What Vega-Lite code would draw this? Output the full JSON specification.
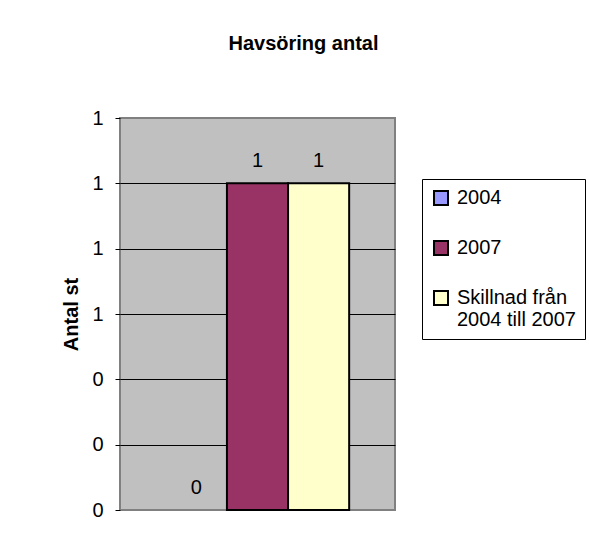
{
  "$schema": "https://vega.github.io/schema/vega-lite/v6.json",
  "width": 275,
  "height": 392,
  "autosize": {"type": "none"},
  "padding": {"left": 120, "top": 118, "right": 194, "bottom": 24},
  "background": "white",
  "title": {
    "text": "Havsöring antal",
    "font": "Liberation Sans",
    "fontSize": 20,
    "fontWeight": "bold",
    "color": "black",
    "anchor": "middle",
    "baseline": "alphabetic",
    "offset": 38,
    "dx": 46
  },
  "data": {
    "values": [
      {"serie": "2004", "antal": 0},
      {"serie": "2007", "antal": 1},
      {"serie": "Skillnad från 2004 till 2007", "antal": 1}
    ]
  },
  "encoding": {
    "x": {
      "field": "serie",
      "type": "nominal",
      "sort": null,
      "scale": {"paddingInner": 0, "paddingOuter": 0.75},
      "axis": null
    },
    "y": {
      "field": "antal",
      "type": "quantitative",
      "scale": {"domain": [0, 1.2], "nice": false},
      "axis": {
        "values": [0, 0.2, 0.4, 0.6, 0.8, 1.0, 1.2],
        "format": ".0f",
        "title": "Antal st",
        "titleFont": "Liberation Sans",
        "titleFontSize": 20,
        "titleFontWeight": "bold",
        "titleColor": "black",
        "titlePadding": 10,
        "labelFont": "Liberation Sans",
        "labelFontSize": 20,
        "labelColor": "black",
        "labelPadding": 12,
        "tickSize": 5,
        "tickColor": "black",
        "domain": false,
        "grid": true,
        "gridColor": {
          "condition": {"test": "datum.value == 0 || datum.value >= 1.2", "value": "#808080"},
          "value": "black"
        },
        "gridWidth": 1,
        "gridOpacity": 1
      }
    }
  },
  "layer": [
    {
      "mark": {"type": "bar", "stroke": "black", "strokeWidth": 2},
      "encoding": {
        "color": {
          "field": "serie",
          "type": "nominal",
          "sort": null,
          "scale": {
            "domain": ["2004", "2007", "Skillnad från 2004 till 2007"],
            "range": ["#9999FF", "#993366", "#FFFFCC"]
          },
          "legend": {
            "title": null,
            "orient": "none",
            "legendX": 302,
            "legendY": 61,
            "fillColor": "white",
            "strokeColor": "black",
            "padding": 9,
            "symbolType": "square",
            "symbolSize": 196,
            "symbolStrokeColor": "black",
            "symbolStrokeWidth": 2,
            "symbolOpacity": 1,
            "labelFont": "Liberation Sans",
            "labelFontSize": 20,
            "labelColor": "black",
            "labelOffset": 6,
            "labelLimit": 300,
            "labelLineHeight": 22,
            "rowPadding": 28,
            "labelExpr": "datum.label == 'Skillnad från 2004 till 2007' ? ['Skillnad från', '2004 till 2007'] : datum.label"
          }
        },
        "strokeOpacity": {
          "condition": {"test": "datum.antal > 0", "value": 1},
          "value": 0
        }
      }
    },
    {
      "mark": {
        "type": "text",
        "font": "Liberation Sans",
        "fontSize": 20,
        "color": "black",
        "baseline": "alphabetic",
        "dy": -16
      },
      "encoding": {
        "text": {"field": "antal", "type": "quantitative", "format": ".0f"}
      }
    }
  ],
  "config": {
    "view": {"fill": "#C0C0C0", "stroke": "#808080", "strokeWidth": 2}
  }
}
